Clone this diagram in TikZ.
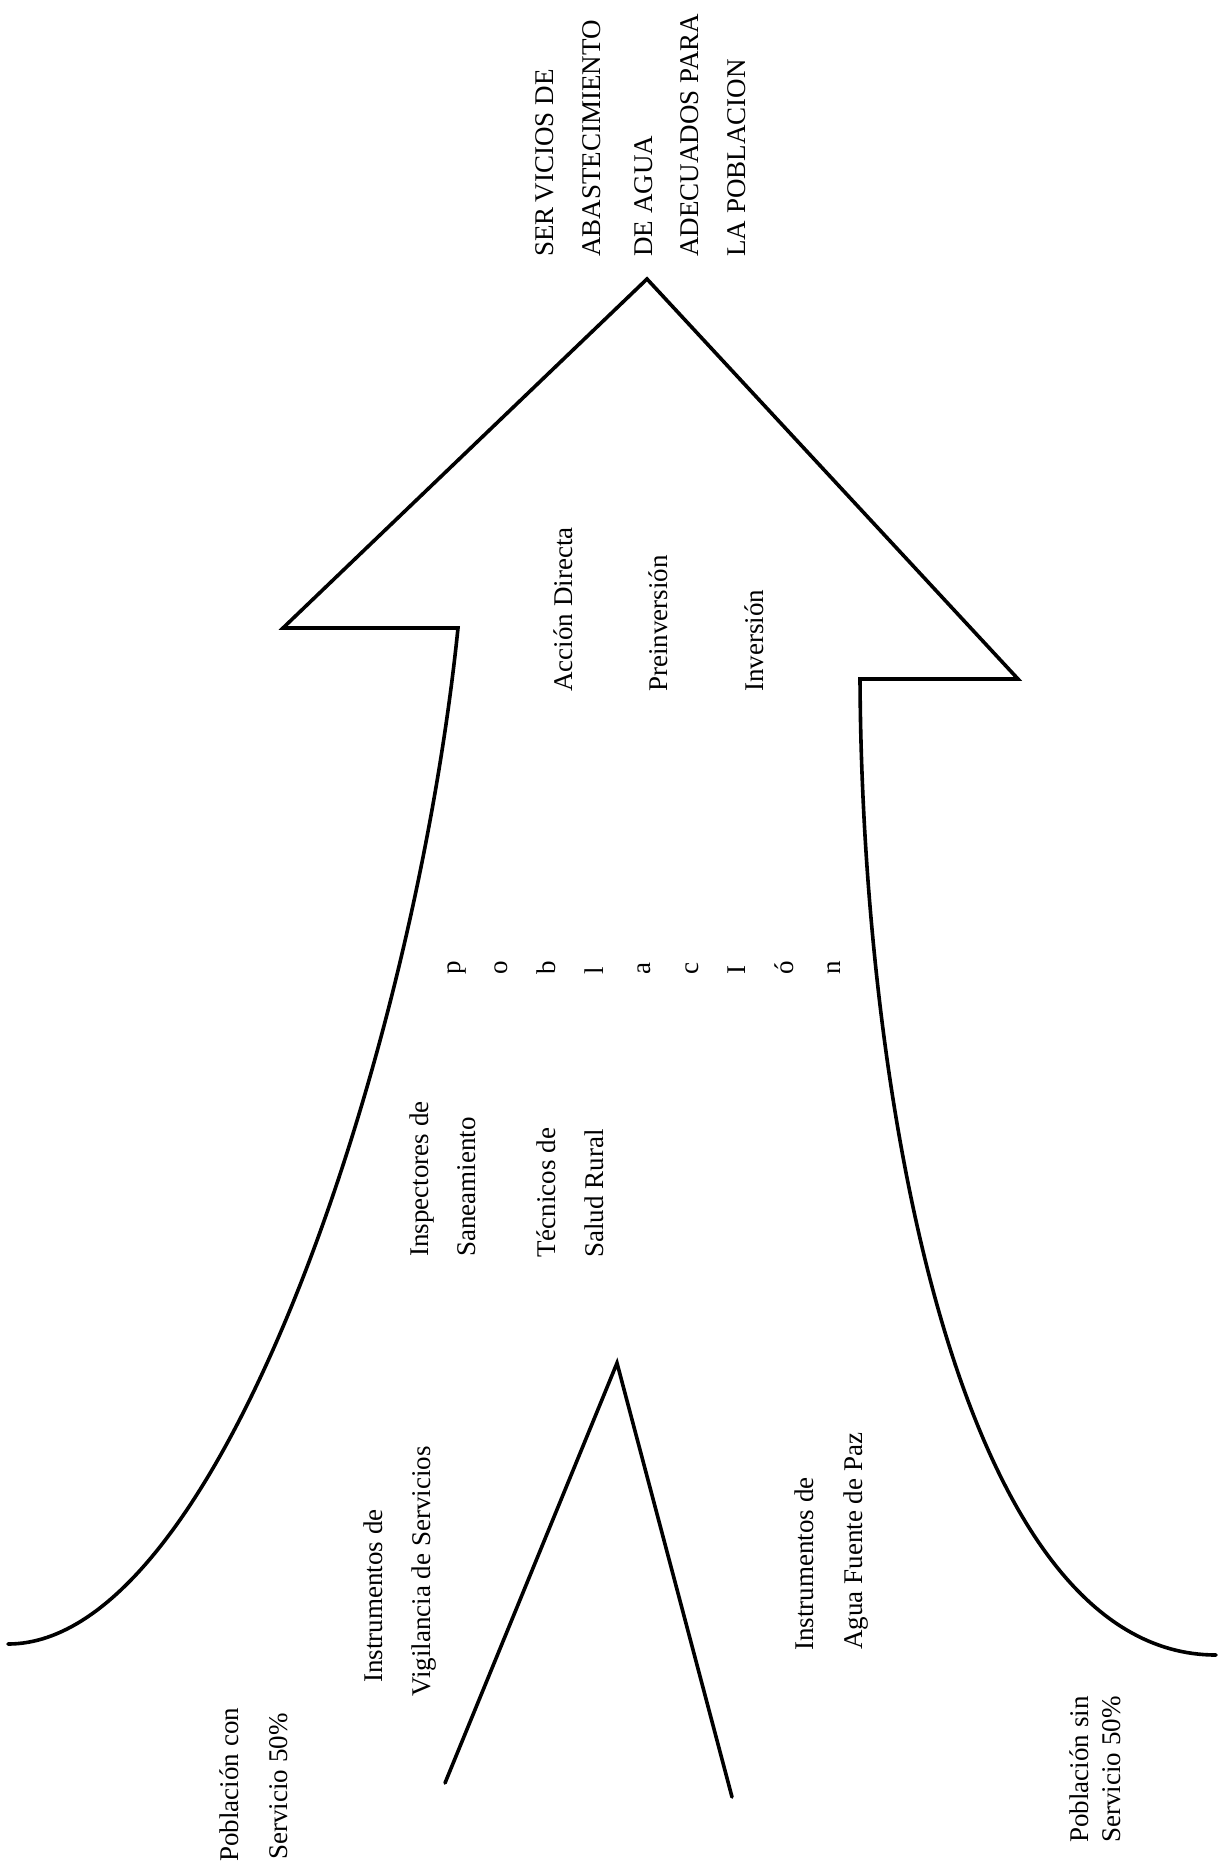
\documentclass[tikz,border=0pt]{standalone}
\usepackage{fontspec}
\setmainfont{Liberation Serif}
\begin{document}
\begin{tikzpicture}[x=0.5pt,y=-0.5pt,
  outline/.style={line width=1.8pt,line join=miter,line cap=round},
  vlabel/.style={rotate=90,anchor=base west,inner sep=0pt,font=\fontsize{13.5}{16}\selectfont}]
\useasboundingbox (0,0) rectangle (1229,1872);

% arrow outline
\coordinate (lend) at (8,1644);
\coordinate (lin) at (458,628);
\coordinate (lbarb) at (283,628);
\coordinate (tip) at (647,279);
\coordinate (rbarb) at (1018,679);
\coordinate (rin) at (860,679);
\coordinate (rend) at (1216,1655);
\draw[outline] (lend) .. controls (220,1644) and (415,1050) .. (lin)
  -- (lbarb) -- (tip) -- (rbarb) -- (rin)
  .. controls (862,1100) and (960,1655) .. (rend);

% inner wedge
\coordinate (vl) at (445,1783);
\coordinate (vtop) at (617,1363);
\coordinate (vr) at (732,1797);
\draw[outline] (vl) -- (vtop) -- (vr);

% title
\node[vlabel] (t1) at (553,257) {SER\kern2.5pt VICIOS DE};
\node[vlabel] (t2) at (600,257) {ABASTECIMIENTO};
\node[vlabel] (t3) at (652,257) {DE AGUA};
\node[vlabel] (t4) at (698,257) {ADECUADOS PARA};
\node[vlabel] (t5) at (745,257) {LA POBLACION};

% lines of action
\node[vlabel] (a1) at (572,692) {Acción Directa};
\node[vlabel] (a2) at (667,692) {Preinversión};
\node[vlabel] (a3) at (763,692) {Inversión};

% spelled word
\node[vlabel] (w1) at (460,975) {p};
\node[vlabel] (w2) at (507,975) {o};
\node[vlabel] (w3) at (555,975) {b};
\node[vlabel] (w4) at (603,975) {l};
\node[vlabel] (w5) at (650,975) {a};
\node[vlabel] (w6) at (698,975) {c};
\node[vlabel] (w7) at (745,975) {I};
\node[vlabel] (w8) at (793,975) {ó};
\node[vlabel] (w9) at (840,975) {n};

% staff
\node[vlabel] (s1) at (428,1257) {Inspectores de};
\node[vlabel] (s2) at (475,1257) {Saneamiento};
\node[vlabel] (s3) at (555,1258) {Técnicos de};
\node[vlabel] (s4) at (603,1258) {Salud Rural};

% instruments
\node[vlabel] (i1) at (382,1683) {Instrumentos de};
\node[vlabel] (i2) at (430,1697) {Vigilancia de Servicios};
\node[vlabel] (i3) at (813,1651) {Instrumentos de};
\node[vlabel] (i4) at (862,1650) {Agua Fuente de Paz};

% population
\node[vlabel] (p1) at (238,1862) {Población con};
\node[vlabel] (p2) at (287,1860) {Servicio 50\%};
\node[vlabel] (p3) at (1088,1843) {Población sin};
\node[vlabel] (p4) at (1120,1843) {Servicio 50\%};
\end{tikzpicture}
\end{document}
